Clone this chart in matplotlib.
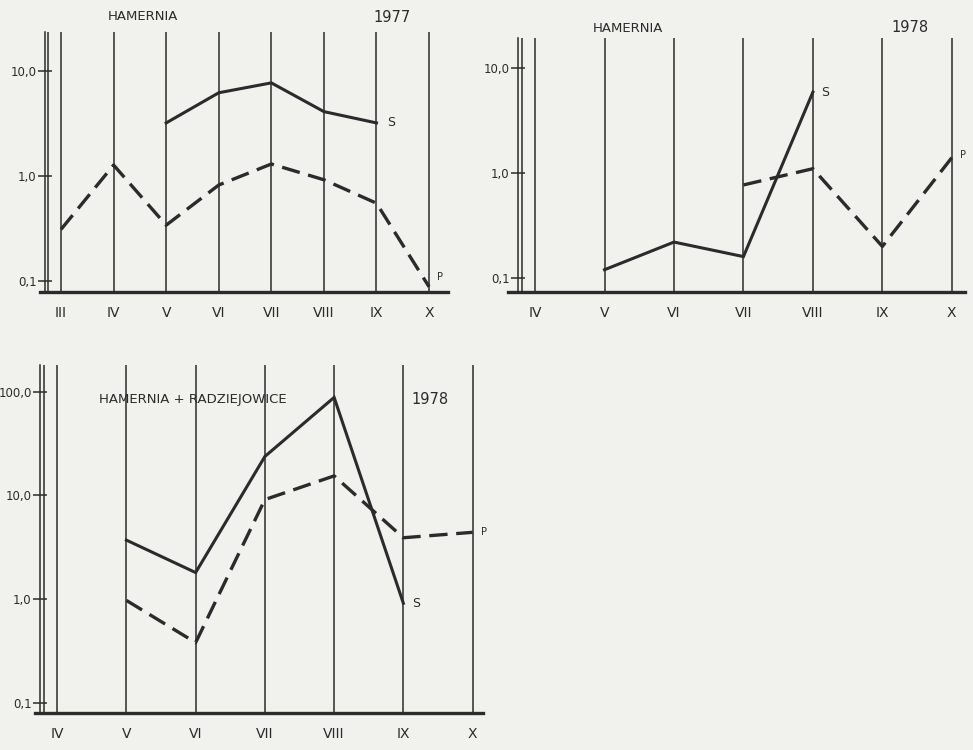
import numpy as np
import matplotlib.pyplot as plt
from matplotlib.ticker import FixedLocator, NullLocator

nan = np.nan

# Panel 1: Hamernia 1977
months_1 = ["III", "IV", "V", "VI", "VII", "VIII", "IX", "X"]
s_1 = [nan, nan, 3.2, 6.2, 7.7, 4.1, 3.2, nan]
p_1 = [0.31, 1.27, 0.34, 0.82, 1.3, 0.92, 0.55, 0.088]

# Panel 2: Hamernia 1978
months_2 = ["IV", "V", "VI", "VII", "VIII", "IX", "X"]
s_2 = [nan, 0.12, 0.22, 0.16, 5.9, nan, nan]
p_2 = [nan, nan, nan, 0.77, 1.1, 0.20, 1.4]

# Panel 3: Hamernia + Radziejowice 1978
months_3 = ["IV", "V", "VI", "VII", "VIII", "IX", "X"]
s_3 = [nan, 3.7, 1.8, 23.7, 88.0, 0.91, nan]
p_3 = [nan, 0.97, 0.38, 9.1, 15.4, 3.9, 4.4]

ticks_small = [0.1, 1.0, 10.0]
labels_small = ["0,1", "1,0", "10,0"]
ticks_big = [0.1, 1.0, 10.0, 100.0]
labels_big = ["0,1", "1,0", "10,0", "100,0"]

W, H = 973, 750
INK = "#2b2b2b"
PAPER = "#f1f1ee"

fig = plt.figure(figsize=(W / 100, H / 100), dpi=100)
fig.patch.set_facecolor(PAPER)


def px_rect(left, top, right, bottom):
    return [left / W, 1 - bottom / H, (right - left) / W, (bottom - top) / H]


def panel(rect, first, months, s, p, xlim, logy, axis_x, yticks, ylabels):
    ax = fig.add_axes(px_rect(*rect))
    ax.set_facecolor("none")
    x = np.arange(first, first + len(months))
    ax.set_yscale("log")
    ax.set_xlim(*xlim)
    ax.set_ylim(10 ** logy[0], 10 ** logy[1])

    # month grid lines
    ax.vlines(x, 10 ** logy[0], 10 ** logy[1], color=INK, lw=1.1)

    # double y axis line with ticks
    for sp in ["top", "right"]:
        ax.spines[sp].set_visible(False)
    ax.spines["left"].set_position(("data", axis_x[0]))
    ax.spines["left"].set_color(INK)
    ax.spines["left"].set_linewidth(1.1)
    ax.vlines(axis_x[1], 10 ** logy[0], 10 ** logy[1], color=INK, lw=1.1)
    ax.spines["bottom"].set_color(INK)
    ax.spines["bottom"].set_linewidth(2.4)

    ax.yaxis.set_major_locator(FixedLocator(yticks))
    ax.yaxis.set_minor_locator(NullLocator())
    ax.set_yticklabels(ylabels)
    ax.tick_params(axis="y", direction="inout", length=10, width=1.1,
                   color=INK, labelcolor=INK, labelsize=8.5, pad=1)

    ax.set_xticks(x)
    ax.set_xticklabels(months)
    ax.tick_params(axis="x", length=0, labelcolor=INK, labelsize=10, pad=10)

    ax.plot(x, s, color=INK, lw=2.2, solid_joinstyle="miter")
    ax.plot(x, p, color=INK, lw=2.4, dashes=(5.5, 2.6))
    return ax, x


ax1, x1 = panel((40, 32, 448, 292), 3, months_1, s_1, p_1, (2.60, 10.36),
                (-1.105, 1.371), (2.695, 2.752), ticks_small, labels_small)
ax1.text(x1[6] + 0.2, s_1[6], "S", color=INK, fontsize=9, va="center")
ax1.text(x1[7] + 0.15, p_1[7] * 1.1, "P", color=INK, fontsize=7, va="bottom")
fig.text(143 / W, 1 - 17 / H, "HAMERNIA", color=INK, fontsize=9.5,
         ha="center", va="center")
fig.text(392 / W, 1 - 17 / H, "1977", color=INK, fontsize=10.5,
         ha="center", va="center")

ax2, x2 = panel((508, 38, 965, 292), 4, months_2, s_2, p_2, (3.61, 10.19),
                (-1.133, 1.286), (3.754, 3.812), ticks_small, labels_small)
ax2.text(x2[4] + 0.12, s_2[4], "S", color=INK, fontsize=9, va="center")
ax2.text(x2[6] + 0.12, p_2[6] * 1.05, "P", color=INK, fontsize=7, va="center")
fig.text(628 / W, 1 - 28 / H, "HAMERNIA", color=INK, fontsize=9.5,
         ha="center", va="center")
fig.text(910 / W, 1 - 28 / H, "1978", color=INK, fontsize=10.5,
         ha="center", va="center")

ax3, x3 = panel((35, 365, 483, 713), 4, months_3, s_3, p_3, (3.68, 10.15),
                (-1.099, 2.257), (3.752, 3.810), ticks_big, labels_big)
ax3.text(x3[5] + 0.12, s_3[5], "S", color=INK, fontsize=9, va="center")
ax3.text(x3[6] + 0.12, p_3[6], "P", color=INK, fontsize=7, va="center")
fig.text(193 / W, 1 - 400 / H, "HAMERNIA + RADZIEJOWICE", color=INK,
         fontsize=9.5, ha="center", va="center")
fig.text(430 / W, 1 - 400 / H, "1978", color=INK, fontsize=10.5,
         ha="center", va="center")

fig.savefig("out.png", dpi=100, facecolor=fig.get_facecolor())
